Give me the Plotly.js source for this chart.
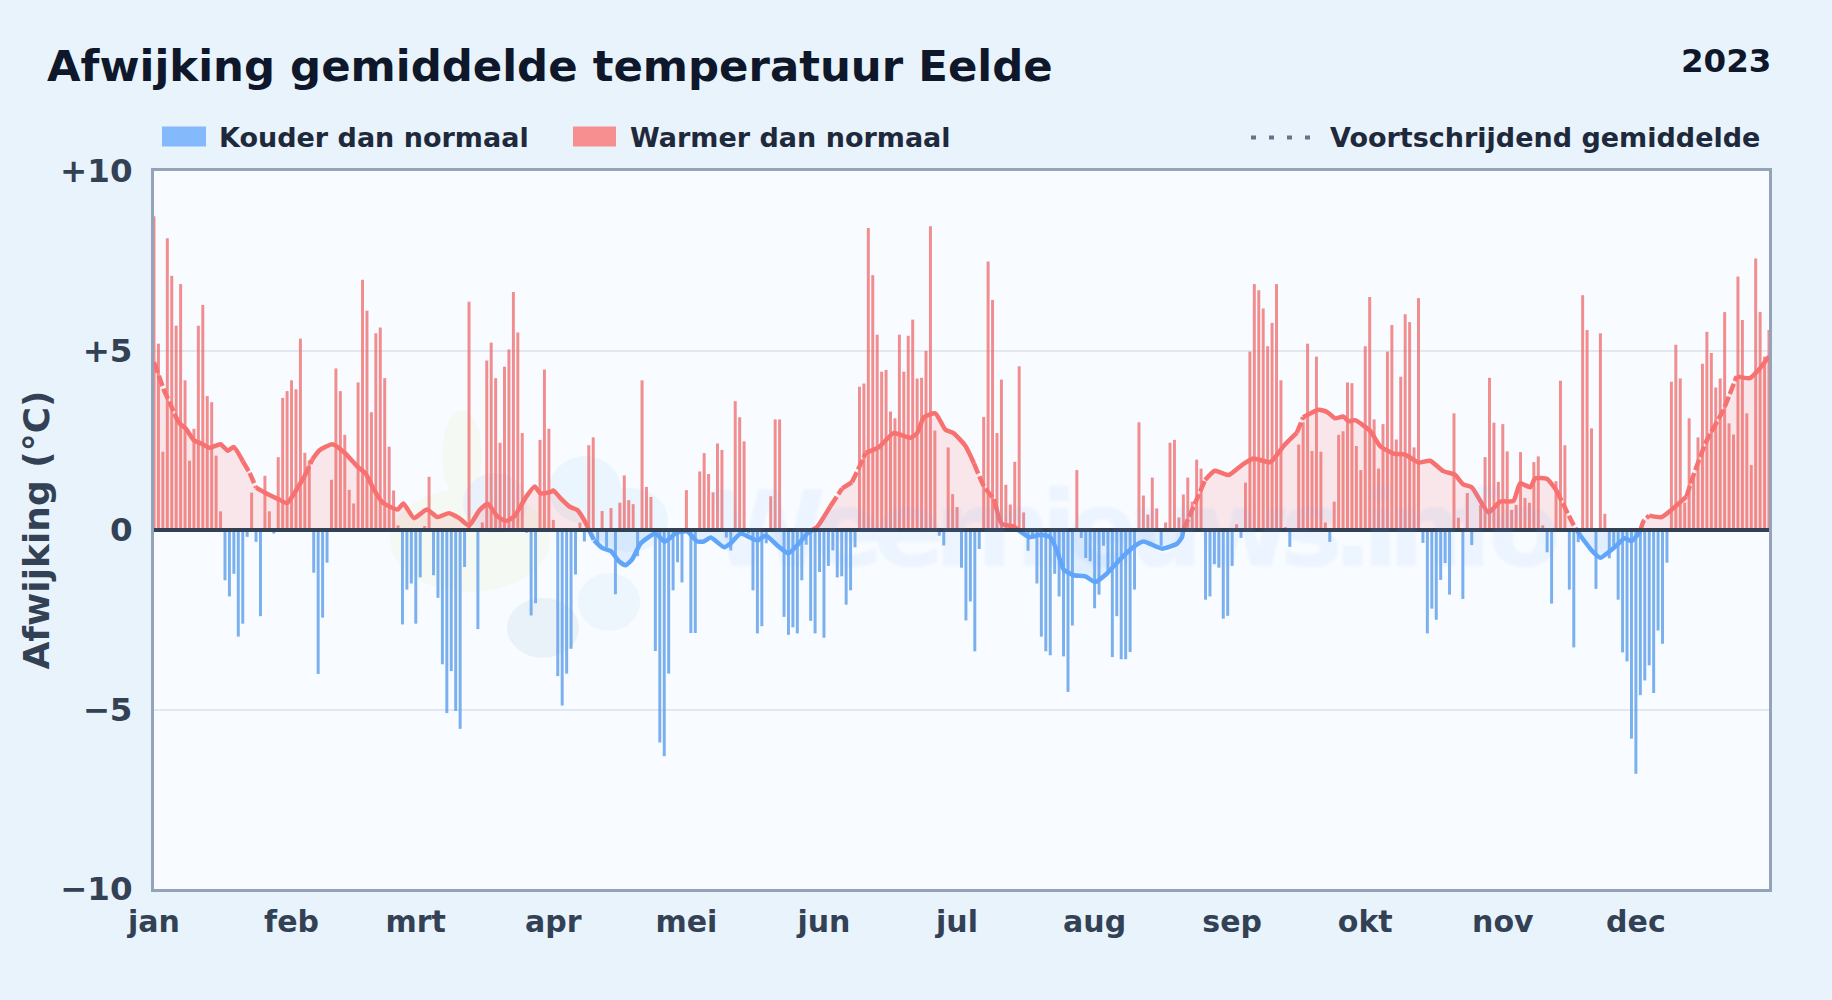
<!DOCTYPE html>
<html lang="nl">
<head>
<meta charset="utf-8">
<title>Afwijking gemiddelde temperatuur Eelde</title>
<script src="https://cdn.plot.ly/plotly-3.0.1.min.js"></script>
<style>
html,body{margin:0;padding:0;background:#e9f3fc}
#chart{width:1832px;height:1000px}
.annotation[data-index="5"] text{letter-spacing:-10px;filter:blur(1.2px)}
</style>
</head>
<body>
<div id="chart"></div>
<script>
const months = ["jan","feb","mrt","apr","mei","jun","jul","aug","sep","okt","nov","dec"];
const monthStarts = [0,31,59,90,120,151,181,212,243,273,304,334];
const yTickVals = [10,5,0,-5,-10];
const yTickText = ["+10","+5","0","−5","−10"];

const deviations = [
8.74,5.19,2.18,8.13,7.08,5.69,6.85,4.17,1.93,2.82,5.69,6.27,3.73,3.56,2.07,0.52,-1.40,-1.85,-1.22,-2.97,-2.61,-0.19,1.04,-0.33,-2.40,1.51,0.52,-0.10,2.03,3.68,3.87,
4.17,3.92,5.33,2.15,1.94,-1.19,-4.01,-2.44,-0.91,1.40,4.50,3.87,2.65,1.12,0.74,4.11,6.97,6.11,3.28,5.48,5.64,4.23,2.32,1.10,0.13,-2.63,-1.66,-1.49,
-2.61,-1.32,0.11,1.48,-1.26,-1.89,-3.74,-5.10,-3.93,-5.04,-5.54,-1.03,6.36,0,-2.76,0.21,4.72,5.22,4.23,2.43,4.55,5.03,6.63,5.50,2.70,-0.08,-2.38,-2.04,2.51,4.47,2.82,
0.28,-4.07,-4.89,-4.00,-3.31,-1.24,0.20,-0.32,2.36,2.58,-0.37,0.53,-0.48,0.61,-1.79,0.76,1.52,0.83,0.72,-0.73,4.17,1.20,0.92,-3.37,-5.92,-6.30,-4.00,-1.68,-0.90,-1.46,
1.11,-2.87,-2.87,1.63,2.14,1.56,1.05,2.41,2.23,-0.21,-0.57,3.59,3.14,2.47,-0.10,-1.68,-2.88,-2.68,-0.37,0.94,3.08,3.08,-2.42,-2.92,-2.71,-2.88,-1.40,-0.41,-2.53,-2.88,-1.17,
-3.00,-1.00,-0.57,-1.32,-1.29,-2.08,-1.68,-0.48,3.99,4.08,8.41,7.10,5.44,4.41,4.46,3.30,3.11,5.44,4.41,5.41,5.86,4.22,4.24,4.99,8.46,2.77,-0.16,-0.43,2.30,1.00,0.64,
-1.05,-2.52,-1.99,-3.38,-0.53,3.15,7.48,6.41,2.70,4.19,1.26,0.71,1.90,4.56,0.49,-0.58,-0.20,-1.49,-2.97,-3.38,-3.49,-1.22,-1.85,-3.52,-4.51,-2.66,1.67,-0.22,-0.78,-0.87,-2.18,
-1.80,-0.44,-1.15,-3.54,-2.40,-3.60,-3.60,-3.40,-1.66,3.00,0.96,0.43,1.46,0.60,-0.44,0.21,2.43,2.51,0.35,0.99,1.46,0.79,1.96,1.71,-1.94,-1.85,-0.95,-1.05,-2.47,-2.39,
-1.00,0.16,-0.22,1.32,4.97,6.85,6.68,6.17,5.12,5.77,6.85,4.17,0.08,-0.47,0,2.38,3.00,5.19,2.20,4.83,2.18,0.21,-0.33,0.79,2.65,2.75,4.11,4.09,2.34,1.67,5.12,
6.49,3.08,1.71,2.95,4.97,5.71,2.52,4.27,6.01,5.79,2.30,6.46,-0.36,-2.88,-2.19,-2.50,-1.39,-0.92,-1.80,3.25,0.34,-1.92,1.03,-0.42,0,0.70,2.03,4.24,2.99,1.34,
2.95,2.19,0.56,0.70,2.17,0.89,0.76,1.89,2.05,0.13,-0.62,-2.05,1.36,4.16,2.36,-1.66,-3.27,-0.34,6.54,5.57,2.83,-1.64,5.48,0.45,-0.79,-0.45,-1.94,-3.41,-3.66,-5.81,
-6.79,-4.60,-4.19,-3.77,-4.54,-2.80,-3.17,-0.91,4.13,5.16,4.22,0.76,3.11,1.50,2.58,4.63,5.52,4.93,3.97,4.22,6.07,2.97,2.66,7.06,5.85,3.25,1.81,7.56,6.07,4.83,5.57
];

const avgDays = [
0,1.4,2.3,3.5,4.6,5.7,7.2,9,11,12.5,15,16.6,18,20,21.5,23,25,28,30,31.6,33.9,35.7,37.2,40.2,42.9,45.9,47.7,49.6,51.5,54.9,56.2,58.6,61.5,63.9,66.5,68.8,71,73.3,75.2,77.4,79.3,81.2,83.8,85.8,87.1,89.4,
90,91.6,93.8,95.4,96.9,98,99.2,101,103,104.8,106.3,107.8,109.7,113,115.1,117.9,120.2,122.4,123.9,125.5,128.5,130,132.2,136,137.9,140.5,143,145.4,147.2,149.5,152.5,155.1,157.3,159.2,160.4,163.4,166.7,170.5,172,173.5,176.1,178.4,180.2,
182.9,184.8,187,189.3,191.1,193.8,195,197.3,199.8,202,203.5,205,207.3,209.9,212.1,214.8,217.8,220.8,223,227.2,230.6,231.7,232,234.3,236.9,239.1,242.2,245.2,247.8,251.6,254.6,257.6,259,262.5,264.4,266.2,268.1,269.2,270.7,
274.1,276.4,279.4,282,285,287.6,290.6,293.2,295.1,297,300.8,303.4,306.4,307.9,310.2,311.3,314,316.1,320,321.5,324.4,326,329,331.5,333,334.9,335.7,337,339.8,341.7,345.4,346.9,349.9,353.7,356.7,359.7,361.6,364
];
const avgValues = [
4.67,4.19,3.88,3.56,3.24,2.98,2.82,2.5,2.39,2.29,2.39,2.21,2.31,1.92,1.6,1.18,1.04,0.86,0.75,1.02,1.49,1.97,2.21,2.39,2.16,1.76,1.57,1.12,0.77,0.57,0.74,0.33,0.57,0.36,0.47,0.33,0.12,0.54,0.73,0.38,0.25,0.38,0.91,1.21,1.02,1.06,
1.10,0.89,0.64,0.56,0.29,0.01,-0.29,-0.5,-0.59,-0.87,-0.98,-0.81,-0.37,-0.10,-0.32,-0.07,-0.04,-0.32,-0.32,-0.21,-0.48,-0.37,-0.10,-0.29,-0.15,-0.43,-0.65,-0.37,-0.10,0.09,0.67,1.16,1.33,1.82,2.15,2.31,2.70,2.57,2.70,3.14,3.25,2.79,2.70,
2.34,1.86,1.23,0.86,0.17,0.10,-0.02,-0.2,-0.13,-0.2,-0.57,-1.10,-1.26,-1.29,-1.45,-1.21,-0.81,-0.47,-0.32,-0.52,-0.38,-0.2,0.01,0.65,1.39,1.65,1.53,1.81,1.99,1.89,2.34,2.71,3.14,3.35,3.29,3.11,3.16,3.03,3.06,
2.76,2.33,2.13,2.10,1.88,1.93,1.64,1.54,1.27,1.19,0.49,0.79,0.81,1.30,1.19,1.44,1.42,1.10,0.13,-0.16,-0.62,-0.77,-0.5,-0.23,-0.31,-0.05,0.24,0.40,0.36,0.53,0.93,1.5,2.48,3.34,4.28,4.23,4.45,4.83
];
// stretches of the running mean that the picture draws broken
const brokenSpans = [[0,4.6],[20,23],[33.9,35.7],[98,100],[152.5,155.1],[157.3,160.4],[184.8,189.3],[232,236.9],[257.6,259],[316.1,321.5],[334.9,337],[345.4,356.7]];

const dayIndex = deviations.map((_, i) => i);
const warmBars = deviations.map(v => v > 0 ? v : null);
const coldBars = deviations.map(v => v < 0 ? v : null);

function splitBySign(xs, ys) {
  const wx=[],wy=[],cx=[],cy=[];
  for (let i=0;i<xs.length;i++){
    if (i>0 && ys[i-1]*ys[i]<0){
      const t=ys[i-1]/(ys[i-1]-ys[i]);
      const xc=xs[i-1]+t*(xs[i]-xs[i-1]);
      if (ys[i]<0){wx.push(xc,null);wy.push(0,null);cx.push(xc);cy.push(0);}
      else{cx.push(xc,null);cy.push(0,null);wx.push(xc);wy.push(0);}
    }
    if (ys[i]>=0){wx.push(xs[i]);wy.push(ys[i]);}
    if (ys[i]<=0){cx.push(xs[i]);cy.push(ys[i]);}
  }
  return {wx,wy,cx,cy};
}
function splitBroken(xs, ys){
  const a={x:[],y:[]}, b={x:[],y:[]};
  const add=(t,i)=>{
    const n=t.x.length;
    if(n && t.x[n-1]!==xs[i-1]){t.x.push(null);t.y.push(null);}
    if(!n || t.x[t.x.length-1]!==xs[i-1]){t.x.push(xs[i-1]);t.y.push(ys[i-1]);}
    t.x.push(xs[i]);t.y.push(ys[i]);
  };
  for(let i=1;i<xs.length;i++){
    if(xs[i]===null||xs[i-1]===null) continue;
    const m=(xs[i]+xs[i-1])/2;
    add(brokenSpans.some(s=>m>=s[0]&&m<=s[1])?b:a,i);
  }
  return {solid:a,broken:b};
}
const parts = splitBySign(avgDays, avgValues);
const warmLine = splitBroken(parts.wx, parts.wy);
const coldLine = splitBroken(parts.cx, parts.cy);

const L=154,R=1769,T=170.5,B=889.5;
const px = x => (x-L)/(R-L);
const py = y => (B-y)/(B-T);

function ellipse(cx,cy,rx,ry,fill){
  return {type:"circle",xref:"paper",yref:"paper",x0:px(cx-rx),x1:px(cx+rx),y0:py(cy+ry),y1:py(cy-ry),
    fillcolor:fill,line:{width:0},layer:"below"};
}
const logo = [
  ellipse(462,455,20,45,"#f4f9f3"),
  ellipse(470,540,80,52,"#f4f9f3"),
  ellipse(495,503,32,30,"#e9f1fa"),
  ellipse(543,628,36,30,"#e9f1f9"),
  ellipse(585,490,36,34,"#ebf5fd"),
  ellipse(630,520,38,32,"#ebf5fd"),
  ellipse(609,602,31,29,"#edf6fd")
];

const txt = {family:"DejaVu Sans, sans-serif",weight:700};
function label(text,x,y,anchor,size,color){
  return {text,xref:"paper",yref:"paper",x:px(x),y:py(y),xanchor:anchor,yanchor:"middle",showarrow:false,
    font:{...txt,size,color}};
}
const lineStyle = (color,dash)=>({color,width:4.5,shape:"spline",smoothing:0.5,dash});

const traces = [
  {type:"bar",name:"Warmer dan normaal",x:dayIndex,y:warmBars,width:0.67,marker:{color:"rgba(239,98,98,0.72)",line:{width:0}},hoverinfo:"x+y"},
  {type:"bar",name:"Kouder dan normaal",x:dayIndex,y:coldBars,width:0.67,marker:{color:"rgba(87,155,235,0.78)",line:{width:0}},hoverinfo:"x+y"},
  {type:"scatter",mode:"none",x:parts.wx,y:parts.wy,fill:"tozeroy",fillcolor:"rgba(248,113,113,0.15)",line:{shape:"spline",smoothing:0.5},hoverinfo:"skip"},
  {type:"scatter",mode:"none",x:parts.cx,y:parts.cy,fill:"tozeroy",fillcolor:"rgba(96,165,250,0.15)",line:{shape:"spline",smoothing:0.5},hoverinfo:"skip"},
  {type:"scatter",mode:"lines",name:"Voortschrijdend gemiddelde",x:warmLine.solid.x,y:warmLine.solid.y,line:lineStyle("#f87171","solid"),hoverinfo:"skip"},
  {type:"scatter",mode:"lines",x:warmLine.broken.x,y:warmLine.broken.y,line:lineStyle("#f87171","11px,3px"),hoverinfo:"skip"},
  {type:"scatter",mode:"lines",x:coldLine.solid.x,y:coldLine.solid.y,line:lineStyle("#60a5fa","solid"),hoverinfo:"skip"},
  {type:"scatter",mode:"lines",x:coldLine.broken.x,y:coldLine.broken.y,line:lineStyle("#60a5fa","11px,3px"),hoverinfo:"skip"}
];

const layout = {
  width:1832,height:1000,
  margin:{l:L,r:1832-R,t:T,b:1000-B,pad:0},
  paper_bgcolor:"#e9f3fc",plot_bgcolor:"#f8fbff",
  showlegend:false,barmode:"overlay",
  xaxis:{range:[0,364],tickmode:"array",tickvals:monthStarts,ticktext:months,ticks:"",showgrid:false,zeroline:false,
    showline:true,mirror:true,linecolor:"#94a3b8",linewidth:3,ticklabelstandoff:4,tickangle:0,
    tickfont:{...txt,size:30,color:"#334155"}},
  yaxis:{range:[-10,10],tickmode:"array",tickvals:yTickVals,ticktext:yTickText,ticks:"",showgrid:true,gridcolor:"#e2e8f0",gridwidth:2,zeroline:false,
    showline:true,mirror:true,linecolor:"#94a3b8",linewidth:3,ticklabelstandoff:12,
    tickfont:{...txt,size:32.5,color:"#334155"},
    title:{text:"Afwijking (°C)",standoff:0,font:{...txt,size:36,color:"#334155"}}},
  shapes:[
    ...logo,
    {type:"line",xref:"paper",yref:"y",x0:0,x1:1,y0:0,y1:0,line:{color:"#334155",width:4},layer:"above"},
    {type:"rect",xref:"paper",yref:"paper",x0:px(162),x1:px(206),y0:py(146),y1:py(126),fillcolor:"#84b9fb",line:{width:0}},
    {type:"rect",xref:"paper",yref:"paper",x0:px(573),x1:px(616),y0:py(146),y1:py(126),fillcolor:"#f78f90",line:{width:0}},
    {type:"line",xref:"paper",yref:"paper",x0:px(1251),x1:px(1312),y0:py(137),y1:py(137),line:{color:"#64748b",width:4,dash:"5px,13px"}}
  ],
  annotations:[
    label("Afwijking gemiddelde temperatuur Eelde",44.5,65,"left",43.4,"#0f172a"),
    label("2023",1773,60,"right",32.5,"#0f172a"),
    label("Kouder dan normaal",217,137,"left",27,"#1e293b"),
    label("Warmer dan normaal",628,137,"left",27,"#1e293b"),
    label("Voortschrijdend gemiddelde",1762,137,"right",27,"#1e293b"),
    {text:"Weernieuws.info",xref:"paper",yref:"paper",x:px(1130),y:py(530),xanchor:"center",yanchor:"middle",showarrow:false,
      font:{...txt,size:105,color:"rgba(96,165,250,0.08)"}}
  ]
};
Plotly.newPlot("chart",traces,layout,{displayModeBar:false,responsive:false,staticPlot:true});
</script>
</body>
</html>
